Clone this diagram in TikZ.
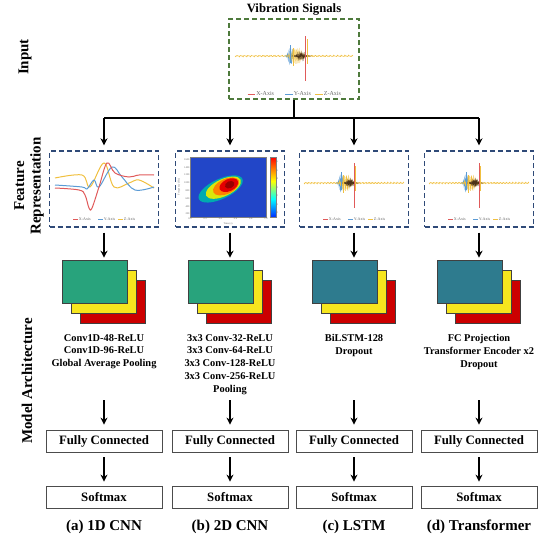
\documentclass[tikz,border=0pt]{standalone}
\usepackage{fontspec}
\setmainfont{Liberation Serif}
\usetikzlibrary{arrows.meta,positioning,calc}

\definecolor{inputgreen}{HTML}{4E7A3C}
\definecolor{featblue}{HTML}{2F4A78}
\definecolor{cnngreen}{HTML}{28A37C}
\definecolor{lstmteal}{HTML}{2E7B8E}
\definecolor{layeryellow}{HTML}{F6E61E}
\definecolor{layerred}{HTML}{CC0000}
\definecolor{xaxis}{HTML}{E05A5A}
\definecolor{yaxis}{HTML}{5B9BD5}
\definecolor{zaxis}{HTML}{F0C040}
\definecolor{specblue}{HTML}{2246C8}

\pgfdeclareverticalshading{jetbar}{100bp}{color(0bp)=(blue!60!black); color(22bp)=(blue); color(40bp)=(cyan); color(55bp)=(yellow); color(75bp)=(red); color(100bp)=(red!60!black)}

\tikzset{
  arr/.style={-{Stealth[length=7pt,width=7pt]}, line width=1.4pt},
  tree/.style={line width=1.4pt},
  inbox/.style={draw=inputgreen, dash pattern=on 5pt off 3pt, line width=1.4pt, minimum width=130pt, minimum height=80pt},
  featbox/.style={draw=featblue, dash pattern=on 5pt off 3pt, line width=1.4pt, minimum width=109pt, minimum height=76pt},
  layer/.style={draw=black!75, line width=0.6pt, minimum width=65pt, minimum height=43pt, inner sep=0pt},
  blockbox/.style={draw=black!70, line width=0.8pt, minimum width=116pt, minimum height=22pt, inner sep=0pt, font=\bfseries\fontsize{12.8}{14}\selectfont},
  archtxt/.style={anchor=north, inner sep=0pt, align=center, font=\bfseries\fontsize{10.4}{12.8}\selectfont},
  captxt/.style={font=\bfseries\fontsize{15}{17}\selectfont},
  titletxt/.style={font=\bfseries\fontsize{12.7}{14}\selectfont},
  rowlabel/.style={rotate=90, align=center, font=\bfseries\fontsize{15}{16.5}\selectfont},
  legendtxt/.style={font=\fontsize{4}{4.5}\selectfont, text=black!60, inner sep=0.6pt},
  ticktxt/.style={font=\fontsize{2.6}{3}\selectfont, text=black!60, inner sep=0.4pt},
}

% one vibration trace: #1 = half width, #2 = burst offset
\newcommand{\vibtrace}[2]{%
  \draw[zaxis, line width=0.6pt] plot[domain=-#1:#1, samples=160] (\x, {0.9*sin(\x*173)*cos(\x*59)});
  \begin{scope}[shift={(#2,0)}]
    \draw[yaxis, line width=0.5pt] plot[domain=-18:-6, samples=50] (\x, {9*exp(-((\x+13)^2)/5)*sin(\x*260)});
    \draw[zaxis, line width=0.5pt] plot[domain=-17:6, samples=70] (\x, {8*exp(-((\x+8)^2)/30)*sin(\x*210+40)});
    \draw[black!60!brown, line width=0.4pt] plot[domain=-12:5, samples=60] (\x, {4*exp(-((\x+4)^2)/15)*sin(\x*330)});
    \draw[yaxis, line width=0.6pt] (-13,-11) -- (-13,7);
    \draw[zaxis, line width=0.6pt] (-11,-8) -- (-11,10);
    \draw[xaxis, line width=0.8pt] (0,-20) -- (0,25);
    \draw[zaxis, line width=0.6pt] (1,-17) -- (1,8);
  \end{scope}
}

% X/Y/Z legend centred on the origin
\newcommand{\axislegend}{%
  \foreach \c/\lab/\p in {xaxis/X/-31, yaxis/Y/-6, zaxis/Z/14} {
    \draw[\c, line width=0.6pt] (\p,0) -- ++(5,0) node[legendtxt, right] {\lab-Axis};
  }
}

\begin{document}
\begin{tikzpicture}[x=1pt, y=-1pt]
  \useasboundingbox (0,0) rectangle (544,536);

  % Row labels
  \node[rowlabel] (rowin) at (25,57) {Input};
  \node[rowlabel] (rowfeat) at (29,186) {Feature\\Representation};
  \node[rowlabel] (rowmodel) at (27,381) {Model Architecture};

  % Input signal
  \node[titletxt] (title) at (294,9) {Vibration Signals};
  \node[inbox] (inp) at (294,59) {};
  \begin{scope}[shift={(inp.center)}]
    \begin{scope}[shift={(0,-3)}, xscale=1.18]
      \vibtrace{50}{10}
    \end{scope}
    \begin{scope}[shift={(0,35)}, scale=1.5, transform shape]
      \axislegend
    \end{scope}
  \end{scope}

  % Feature boxes
  \foreach \n/\x in {1/104, 2/230, 3/354, 4/479}
    \node[featbox] (f\n) at (\x,189) {};

  % Split from the input
  \coordinate (split) at (inp.south |- 0,118);
  \draw[tree] (inp.south) -- (split);
  \draw[tree] (split -| f1) -- (split -| f4);

  % 1D CNN: raw curves
  \begin{scope}[shift={(f1.center)}]
    \draw[zaxis, line width=1pt] plot[smooth, tension=0.6] coordinates {(-49,-11) (-22,-14) (-14,-2) (0,-26) (10,-2) (25,-6) (35,-9) (50,-1)};
    \draw[yaxis, line width=1pt] plot[smooth, tension=0.6] coordinates {(-49,-4) (-22,-2) (-17,0) (-10,-9) (-5,-2) (8,-22) (18,-12) (31,1) (50,-2)};
    \draw[xaxis, line width=1pt] plot[smooth, tension=0.6] coordinates {(-49,-1) (-25,1) (-19,6) (-15,19) (-12,19) (-5,-2) (3,-26) (11,-16) (25,-12) (35,-14) (50,-14)};
    \begin{scope}[shift={(0,30)}]
      \axislegend
    \end{scope}
  \end{scope}

  % 2D CNN: spectrogram
  \begin{scope}[shift={(f2.center)}]
    \fill[specblue] (-40,-32) rectangle (36,28);
    \begin{scope}[shift={(-3,-3)}, rotate=25]
      \fill[cyan!60!green] (-7,0) ellipse (24 and 10);
      \fill[yellow!85!green] (-4,0) ellipse (19 and 8.5);
      \fill[orange] (-1,0) ellipse (14 and 7.5);
      \fill[red!90!black] (2,0) ellipse (10 and 6);
      \fill[red!60!black] (3,0) ellipse (5 and 3.5);
    \end{scope}
    \shade[shading=jetbar] (40,-32) rectangle (46,28);
    \draw[black!50, line width=0.3pt] (-40,-32) rectangle (36,28);
    \draw[black!50, line width=0.3pt] (40,-32) rectangle (46,28);
    \foreach \t [count=\i from 0] in {0.0,0.2,0.4,0.6,0.8,1.0}
      \node[ticktxt, below] (tx\i) at (-40+\i*15.2,28) {\t};
    \node[ticktxt] (tlab) at (-2,35) {Time (s)};
    \foreach \t [count=\i from 0] in {200,400,600,800,1000,1200,1400,1600}
      \node[ticktxt, left] (ty\i) at (-40,25-\i*7.8) {\t};
    \node[ticktxt, rotate=90] (flab) at (-51,-2) {Frequency (Hz)};
    \foreach \t in {0,...,6}
      \node[ticktxt, right] (tc\t) at (46,24-\t*8.5) {\t};
  \end{scope}

  % LSTM and Transformer: raw traces
  \foreach \n in {3,4} {
    \begin{scope}[shift={(f\n.center)}]
      \begin{scope}[shift={(0,-6)}]
        \vibtrace{50}{0}
      \end{scope}
      \begin{scope}[shift={(0,30)}]
        \axislegend
      \end{scope}
    \end{scope}
  }

  % Layers, blocks and arrows
  \foreach \n/\x/\fc in {1/104/cnngreen, 2/230/cnngreen, 3/354/lstmteal, 4/479/lstmteal} {
    \node[layer, fill=layerred] (lr\n) at (\x+9,301.5) {};
    \node[layer, fill=layeryellow] (ly\n) at (\x,291.5) {};
    \node[layer, fill=\fc] (lg\n) at (\x-9,281.5) {};
    \node[blockbox] (fc\n) at (\x,441) {Fully Connected};
    \node[blockbox] (sm\n) at (\x,497) {Softmax};
    \coordinate (st\n) at (\x,400);
    \draw[arr, shorten >=5pt] (split -| f\n) -- (f\n.north);
    \draw[arr, shorten <=5pt, shorten >=2pt] (f\n.south) -- (f\n.south |- lg\n.north);
    \draw[arr, shorten >=5pt] (st\n) -- (fc\n.north);
    \draw[arr, shorten <=5pt, shorten >=4pt] (fc\n.south) -- (sm\n.north);
  }

  % Architecture text
  \node[archtxt] (a1) at (104,334) {Conv1D-48-ReLU\\Conv1D-96-ReLU\\Global Average Pooling};
  \node[archtxt] (a2) at (230,334) {3x3 Conv-32-ReLU\\3x3 Conv-64-ReLU\\3x3 Conv-128-ReLU\\3x3 Conv-256-ReLU\\Pooling};
  \node[archtxt] (a3) at (354,334) {BiLSTM-128\\Dropout};
  \node[archtxt] (a4) at (479,334) {FC Projection\\Transformer Encoder x2\\Dropout};

  % Captions
  \node[captxt] (cap1) at (104,527) {(a) 1D CNN};
  \node[captxt] (cap2) at (230,527) {(b) 2D CNN};
  \node[captxt] (cap3) at (354,527) {(c) LSTM};
  \node[captxt] (cap4) at (479,527) {(d) Transformer};
\end{tikzpicture}
\end{document}
